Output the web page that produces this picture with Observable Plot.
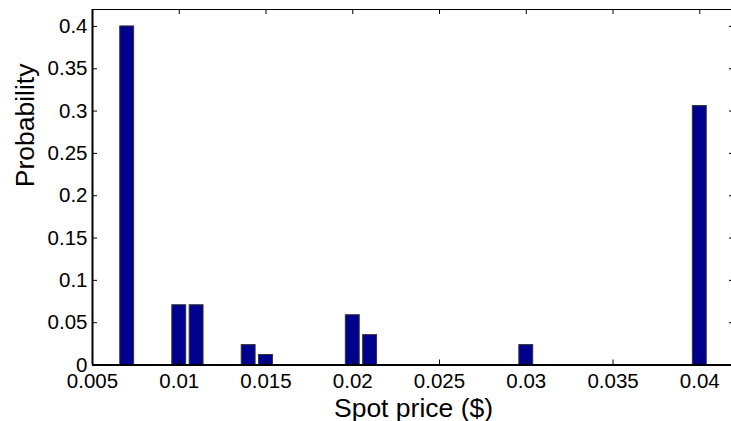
<!DOCTYPE html>
<html>
<head>
<meta charset="utf-8">
<script src="https://cdn.jsdelivr.net/npm/d3@7"></script>
<script src="https://cdn.jsdelivr.net/npm/@observablehq/plot@0.6"></script>
<style>
  html, body { margin: 0; padding: 0; background: #fff; }
  #chart { width: 731px; height: 421px; overflow: hidden; }
</style>
</head>
<body>
<div id="chart"></div>
<script>
const prices = [0.007, 0.010, 0.011, 0.014, 0.015, 0.020, 0.021, 0.030, 0.040];
const probabilities = [0.4, 0.0706, 0.0706, 0.0235, 0.0118, 0.0588, 0.0353, 0.0235, 0.3059];
const xTicks = [0.005, 0.01, 0.015, 0.02, 0.025, 0.03, 0.035, 0.04];
const yTicks = [0, 0.05, 0.1, 0.15, 0.2, 0.25, 0.3, 0.35, 0.4];
const xLabel = "Spot price ($)";
const yLabel = "Probability";
const binWidth = 0.0008;
const xDomain = [0.005, 0.042];
const yDomain = [0, 0.42];

const data = prices.map((p, i) => ({price: p, prob: probabilities[i]}));

const W = 731, H = 421;
const mL = 92, mR = -3, mT = 9, mB = 56.5;
const frameW = W - mL - mR, frameH = H - mT - mB;
const tk = 5;
const fmt = d => String(+d.toFixed(3));
const font = "Liberation Sans, Arial, Helvetica, sans-serif";

const chart = Plot.plot({
  width: W,
  height: H,
  marginLeft: mL,
  marginRight: mR,
  marginTop: mT,
  marginBottom: mB,
  style: {fontFamily: font, background: "#fff", color: "#000"},
  x: {type: "linear", domain: xDomain},
  y: {domain: yDomain},
  marks: [
    Plot.rectY(data, {
      x1: d => d.price - binWidth / 2,
      x2: d => d.price + binWidth / 2,
      y1: 0,
      y2: "prob",
      fill: "#00008F",
      stroke: "#333",
      strokeWidth: 1
    }),
    // inward ticks bottom
    Plot.ruleX(xTicks, {stroke: "#000", strokeWidth: 1, insetTop: frameH - tk}),
    // inward ticks top
    Plot.ruleX(xTicks, {stroke: "#000", strokeWidth: 1, insetBottom: frameH - tk}),
    // inward ticks left
    Plot.ruleY(yTicks, {stroke: "#000", strokeWidth: 1, insetRight: frameW - tk}),
    // inward ticks right
    Plot.ruleY(yTicks, {stroke: "#000", strokeWidth: 1, insetLeft: frameW - tk}),
    // frame
    Plot.ruleY([yDomain[1]], {stroke: "#000", strokeWidth: 1}),
    Plot.ruleX([xDomain[1]], {stroke: "#000", strokeWidth: 1}),
    Plot.ruleX([xDomain[0]], {stroke: "#000", strokeWidth: 2}),
    Plot.ruleY([yDomain[0]], {stroke: "#000", strokeWidth: 2}),
    Plot.axisX({ticks: xTicks, tickSize: 0, tickPadding: 8, fontSize: 20.5, tickFormat: fmt, label: null}),
    Plot.axisY({ticks: yTicks, tickSize: 0, tickPadding: 5, fontSize: 20.5, tickFormat: fmt, label: null}),
    Plot.text([xLabel], {frameAnchor: "bottom", lineAnchor: "bottom", dy: 51.5, fontSize: 26.5, fill: "#000"}),
    Plot.text([yLabel], {frameAnchor: "left", lineAnchor: "bottom", rotate: -90, dx: -59, fontSize: 26.5, fill: "#000"})
  ]
});
document.getElementById("chart").appendChild(chart);
</script>
</body>
</html>
